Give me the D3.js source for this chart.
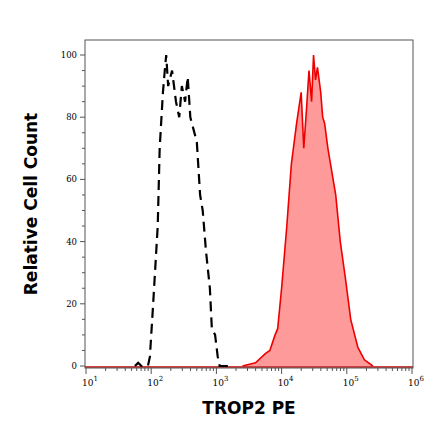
<!DOCTYPE html>
<html><head><meta charset="utf-8">
<script src="https://cdn.jsdelivr.net/npm/d3@7"></script>
<style>body{margin:0;background:#fff}</style>
</head><body><svg id="c" width="440" height="441"></svg>
<script>
// log10 intensity, relative count
const isoX = [1.75,1.8,1.85,1.95,1.98,2.03,2.10,2.13,2.18,2.20,2.23,2.26,2.32,2.38,2.43,2.47,2.52,2.56,2.60,2.70,2.75,2.79,2.84,2.90,2.93,2.98,3.02,3.05,3.2];
const isoY = [0,1,0,0,3,20,45,70,88,93,100,90,95,85,80,90,85,93,80,72,55,50,37,25,12,10,3,0,0];
const troX = [3.4,3.6,3.75,3.82,3.9,3.94,4.0,4.08,4.15,4.23,4.3,4.34,4.38,4.42,4.46,4.49,4.52,4.55,4.6,4.63,4.66,4.71,4.75,4.83,4.9,4.98,5.06,5.17,5.27,5.4];
const troY = [0,1,4,5,10,12,25,45,65,78,88,70,82,95,85,100,92,96,88,80,78,70,65,55,40,28,15,6,2,0];
const xTicks = [1,2,3,4,5,6];
const yTicks = [0,20,40,60,80,100];

const svg = d3.select("#c");
const x = d3.scaleLinear().domain([1,6]).range([86,412]);
const y = d3.scaleLinear().domain([0,100]).range([366,55]);

// baseline
svg.append("line").attr("x1",85).attr("x2",413).attr("y1",y(0)+1).attr("y2",y(0)+1)
  .attr("stroke","#b00").attr("stroke-width",1.5);

let tro = troX.map((v,i) => [v, troY[i]]);
svg.append("path").datum(tro)
  .attr("d", d3.area().x(d => x(d[0])).y0(y(0)).y1(d => y(d[1])))
  .attr("fill","#ff9a9a");
svg.append("path").datum(tro)
  .attr("d", d3.line().x(d => x(d[0])).y(d => y(d[1])))
  .attr("fill","none").attr("stroke","#e00").attr("stroke-width",1.6);

let iso = isoX.map((v,i) => [v, isoY[i]]);
svg.append("path").datum(iso)
  .attr("d", d3.line().x(d => x(d[0])).y(d => y(d[1])))
  .attr("fill","none").attr("stroke","#000").attr("stroke-width",2.2)
  .attr("stroke-dasharray","10,6");

// frame
svg.append("rect").attr("x",85).attr("y",40).attr("width",328).attr("height",328)
  .attr("fill","none").attr("stroke","#555").attr("stroke-width",1);

// y ticks
let yMinor = d3.range(0,101,5);
svg.selectAll(".ym").data(yMinor).enter().append("line")
  .attr("x1",85).attr("x2",d => d%20 ? 82 : 80).attr("y1",d => y(d)).attr("y2",d => y(d))
  .attr("stroke","#555");
svg.selectAll(".yl").data(yTicks).enter().append("text")
  .attr("x",77).attr("y",d => y(d)+3).attr("text-anchor","end")
  .attr("font-family","DejaVu Serif").attr("font-size",8.5).text(d => d);

// x ticks
let xMinor = [];
for (let e = 1; e < 6; e++) for (let m = 1; m < 10; m++) xMinor.push(e + Math.log10(m));
xMinor.push(6);
svg.selectAll(".xm").data(xMinor).enter().append("line")
  .attr("x1",d => x(d)).attr("x2",d => x(d)).attr("y1",368)
  .attr("y2",d => Math.abs(d - Math.round(d)) < 1e-9 ? 374 : 371).attr("stroke","#555");
let xl = svg.selectAll(".xl").data(xTicks).enter().append("text")
  .attr("x",d => x(d)+4).attr("y",386).attr("text-anchor","middle")
  .attr("font-family","DejaVu Serif").attr("font-size",9);
xl.append("tspan").text("10");
xl.append("tspan").attr("dy",-5).attr("font-size",7).text(d => d);

svg.append("text").attr("x",249).attr("y",414).attr("text-anchor","middle")
  .attr("font-family","DejaVu Sans").attr("font-weight","bold").attr("font-size",17)
  .text("TROP2 PE");
svg.append("text").attr("transform","translate(37,204) rotate(-90)").attr("text-anchor","middle")
  .attr("font-family","DejaVu Sans").attr("font-weight","bold").attr("font-size",17)
  .text("Relative Cell Count");
</script></body></html>
